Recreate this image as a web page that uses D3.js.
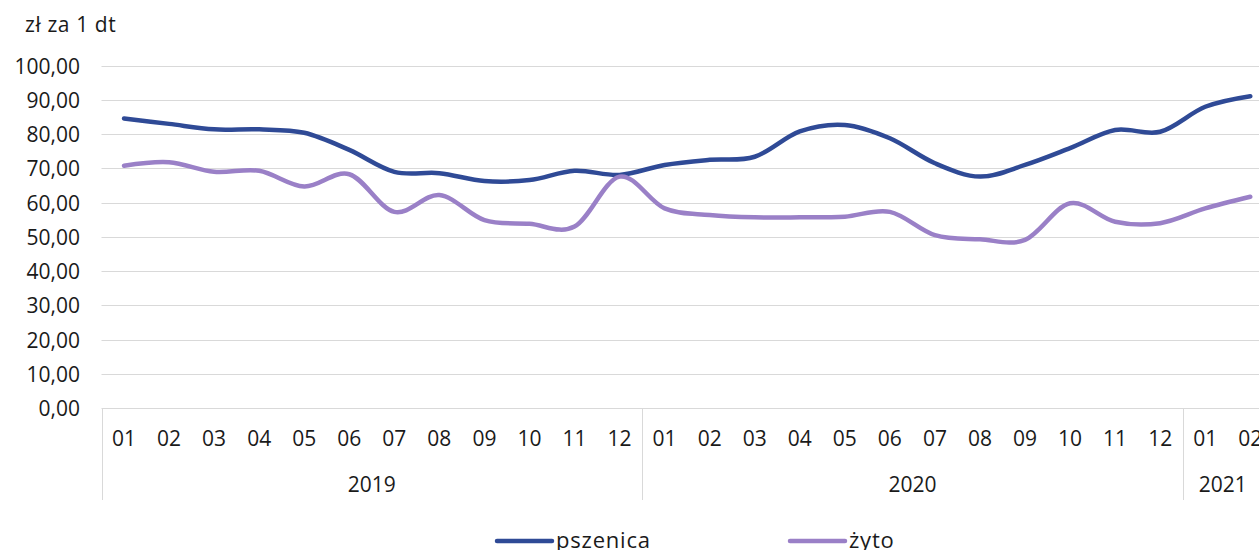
<!DOCTYPE html>
<html lang="pl">
<head>
  <meta charset="UTF-8" />
  <title>Ceny pszenicy i żyta</title>
  <script src="https://d3js.org/d3.v7.min.js"></script>
  <style>
    body {
      margin: 0;
      padding: 0;
      background: #fff;
      font-family: "Open Sans", "Noto Sans", sans-serif;
    }
    svg text {
      fill: #1a1a1a;
    }
    .grid line {
      stroke: #d9d9d9;
      stroke-width: 1;
    }
  </style>
</head>
<body>
  <div id="chart"></div>

  <script>
    // data
    const months = ["01","02","03","04","05","06","07","08","09","10","11","12",
                    "01","02","03","04","05","06","07","08","09","10","11","12",
                    "01","02"];
    const years = [
      { label: "2019", start: 0, end: 12 },
      { label: "2020", start: 12, end: 24 },
      { label: "2021", start: 24, end: 26 }
    ];
    const pszenica = [84.6, 83.0, 81.4, 81.4, 80.4, 75.4, 69.0, 68.6, 66.3, 66.6, 69.3, 68.1,
                      71.0, 72.5, 73.4, 80.8, 82.7, 78.8, 71.5, 67.6, 71.0, 75.9, 81.2, 80.7,
                      88.0, 91.1];
    const zyto = [70.8, 71.8, 69.0, 69.3, 64.7, 68.3, 57.3, 62.2, 54.9, 53.8, 53.0, 67.6,
                  58.3, 56.4, 55.7, 55.7, 55.9, 57.3, 50.5, 49.3, 49.1, 59.8, 54.4, 54.0,
                  58.3, 61.7];
    const yTicks = [0, 10, 20, 30, 40, 50, 60, 70, 80, 90, 100];

    const series = [
      { name: "pszenica", values: pszenica, color: "#2f4a96" },
      { name: "żyto", values: zyto, color: "#9a80c7" }
    ];

    const width = 1259, height = 550;
    const plotLeft = 101.5, band = 45.05;
    const plotTop = 65.7, plotBottom = 408;

    const svg = d3.select("#chart").append("svg")
      .attr("width", width)
      .attr("height", height);

    const x = d3.scaleBand()
      .domain(d3.range(months.length))
      .range([plotLeft, plotLeft + band * months.length])
      .padding(0);

    const y = d3.scaleLinear()
      .domain([0, 100])
      .range([plotBottom, plotTop]);

    const fmt = d => d3.format(".2f")(d).replace(".", ",");

    // unit label
    svg.append("text")
      .attr("x", 25)
      .attr("y", 32)
      .style("font-size", "21px")
      .style("letter-spacing", "0.6px")
      .text("zł za 1 dt");

    // gridlines
    svg.append("g").attr("class", "grid")
      .selectAll("line")
      .data(yTicks)
      .join("line")
      .attr("x1", plotLeft)
      .attr("x2", x.range()[1])
      .attr("y1", d => Math.round(y(d)) + 0.5)
      .attr("y2", d => Math.round(y(d)) + 0.5);

    // y labels
    svg.append("g")
      .selectAll("text")
      .data(yTicks)
      .join("text")
      .attr("x", 80)
      .attr("y", d => y(d))
      .attr("text-anchor", "end")
      .attr("dominant-baseline", "central")
      .style("font-size", "21px")
      .text(fmt);

    // month labels
    svg.append("g")
      .selectAll("text")
      .data(months)
      .join("text")
      .attr("x", (d, i) => x(i) + x.bandwidth() / 2)
      .attr("y", 438)
      .attr("text-anchor", "middle")
      .attr("dominant-baseline", "central")
      .style("font-size", "21px")
      .text(d => d);

    // year groups and separators
    const seps = [0].concat(years.map(g => g.end).slice(0, -1));
    svg.append("g").attr("class", "grid")
      .selectAll("line")
      .data(seps)
      .join("line")
      .attr("x1", d => Math.round(x(d)) + 0.5)
      .attr("x2", d => Math.round(x(d)) + 0.5)
      .attr("y1", plotBottom)
      .attr("y2", 500);

    svg.append("g")
      .selectAll("text")
      .data(years)
      .join("text")
      .attr("x", g => {
        const x0 = x(g.start);
        const x1 = Math.min(x(g.end - 1) + x.bandwidth(), width + 4);
        return (x0 + x1) / 2;
      })
      .attr("y", 484)
      .attr("text-anchor", "middle")
      .attr("dominant-baseline", "central")
      .style("font-size", "21px")
      .text(g => g.label);

    // lines
    const line = d3.line()
      .x((d, i) => x(i) + x.bandwidth() / 2)
      .y(d => y(d))
      .curve(d3.curveCardinal.tension(0));

    svg.append("g")
      .selectAll("path")
      .data(series)
      .join("path")
      .attr("fill", "none")
      .attr("stroke", s => s.color)
      .attr("stroke-width", 4.5)
      .attr("stroke-linecap", "round")
      .attr("stroke-linejoin", "round")
      .attr("d", s => line(s.values));

    // legend
    const legendX = [497, 790];
    const legend = svg.append("g")
      .selectAll("g")
      .data(series)
      .join("g")
      .attr("transform", (s, i) => `translate(${legendX[i]},541)`);

    legend.append("line")
      .attr("x1", 0)
      .attr("x2", 55)
      .attr("stroke", s => s.color)
      .attr("stroke-width", 4.5)
      .attr("stroke-linecap", "round");

    legend.append("text")
      .attr("x", 59)
      .attr("y", -2)
      .attr("dominant-baseline", "central")
      .style("font-size", "22px")
      .style("letter-spacing", "0.8px")
      .text(s => s.name);
  </script>
</body>
</html>
